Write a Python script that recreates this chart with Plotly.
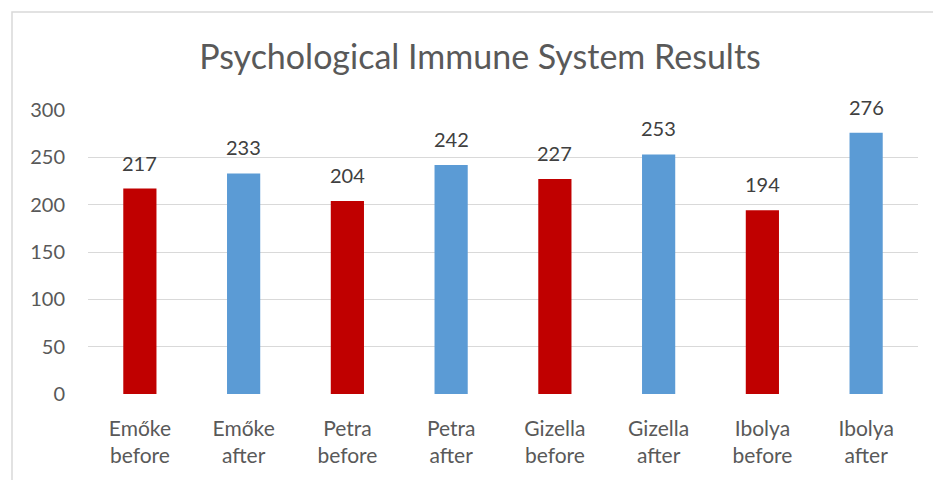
import plotly.graph_objects as go

categories = ["Emőke<br>before", "Emőke<br>after", "Petra<br>before", "Petra<br>after",
              "Gizella<br>before", "Gizella<br>after", "Ibolya<br>before", "Ibolya<br>after"]
values = [217, 233, 204, 242, 227, 253, 194, 276]
colors = ["#C00000", "#5B9BD5"] * 4
y_ticks = [0, 50, 100, 150, 200, 250, 300]

FONT = "Lato"
TXT = "#595959"

fig = go.Figure()
fig.add_trace(go.Bar(x=categories, y=values, marker=dict(color=colors, line=dict(width=0)),
                     width=0.32, showlegend=False, hoverinfo="skip"))

for c, v in zip(categories, values):
    fig.add_annotation(x=c, y=v, text=str(v), showarrow=False, yshift=26, yanchor="middle",
                       font=dict(family=FONT, size=20, color="#404040"))

W, H = 933, 480
ml, mr, mt, mb = 88, 15, 110, 86
pw, ph = W - ml - mr, H - mt - mb

def px_x(p):
    return (p - ml) / pw

def px_y(p):
    return (H - mb - p) / ph

fig.add_shape(type="rect", xref="paper", yref="paper",
              x0=px_x(12), x1=px_x(960), y0=px_y(12), y1=px_y(520),
              line=dict(color="#D9D9D9", width=1.5), fillcolor="rgba(0,0,0,0)", layer="below")

fig.update_layout(
    width=W, height=H,
    margin=dict(l=ml, r=mr, t=mt, b=mb),
    paper_bgcolor="white", plot_bgcolor="white",
    title=dict(text="Psychological Immune System Results", x=480 / W, xanchor="center",
               y=1 - 57 / H, yanchor="middle", yref="container",
               font=dict(family=FONT, size=34, color=TXT)),
    xaxis=dict(showgrid=False, showline=False, ticks="", zeroline=False,
               tickfont=dict(family=FONT, size=21, color=TXT), ticklabelstandoff=20),
    yaxis=dict(range=[0, 300], tickvals=y_ticks, showgrid=True, gridcolor="#D9D9D9", gridwidth=1.3,
               zeroline=False, showline=False, ticks="",
               tickfont=dict(family=FONT, size=20, color=TXT), ticklabelstandoff=22),
    font=dict(family=FONT, color=TXT),
)

fig.write_html("out.html", config={"displayModeBar": False},
               post_script="document.body.style.margin='0';document.body.style.overflow='hidden';")
